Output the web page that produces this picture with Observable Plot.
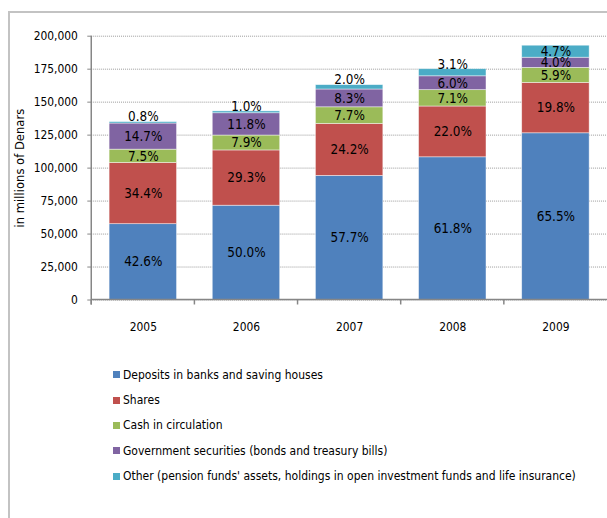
<!DOCTYPE html>
<html><head><meta charset="utf-8">
<script src="https://cdn.jsdelivr.net/npm/d3@7"></script>
<script src="https://cdn.jsdelivr.net/npm/@observablehq/plot@0.6"></script>
<style>
html,body{margin:0;padding:0;background:#fff;overflow:hidden;width:607px;height:518px;}
#wrap{position:relative;width:607px;height:518px;overflow:hidden;font-family:"DejaVu Sans Condensed","DejaVu Sans",sans-serif;}
#frame{position:absolute;left:8px;top:11px;width:620px;height:520px;border-left:2px solid #c3c3c3;border-top:2px solid #c3c3c3;}
#chart{position:absolute;left:0;top:0;}
#legend{position:absolute;left:113px;top:362px;font-size:12px;color:#000;}
.item{height:25.4px;display:flex;align-items:center;white-space:nowrap;}
.sw{width:7px;height:7px;margin-right:3px;flex:none;}
</style></head>
<body>
<div id="wrap"><div id="frame"></div><div id="chart"></div><div id="legend"></div></div>
<script>
const years = ["2005", "2006", "2007", "2008", "2009"];
const seriesNames = [
  "Deposits in banks and saving houses",
  "Shares",
  "Cash in circulation",
  "Government securities (bonds and treasury bills)",
  "Other (pension funds' assets, holdings in open investment funds and life insurance)"
];
const colors = ["#4f81bd", "#c0504d", "#9bbb59", "#8064a2", "#4bacc6"];
// values in millions of Denars
const deposits      = [57500, 71500, 94100, 108200, 126400];
const shares        = [46400, 41900, 39400, 38500, 38200];
const cash          = [10100, 11300, 12600, 12400, 11400];
const govSecurities = [19800, 16900, 13500, 10500, 7700];
const other         = [1100, 1400, 3300, 5400, 9100];
const depositsPct = ["42.6%", "50.0%", "57.7%", "61.8%", "65.5%"];
const sharesPct   = ["34.4%", "29.3%", "24.2%", "22.0%", "19.8%"];
const cashPct     = ["7.5%", "7.9%", "7.7%", "7.1%", "5.9%"];
const govPct      = ["14.7%", "11.8%", "8.3%", "6.0%", "4.0%"];
const otherPct    = ["0.8%", "1.0%", "2.0%", "3.1%", "4.7%"];
const yTicks = [0, 25000, 50000, 75000, 100000, 125000, 150000, 175000, 200000];
const yLabel = "in millions of Denars";

const seriesValues = [deposits, shares, cash, govSecurities, other];
const seriesPct = [depositsPct, sharesPct, cashPct, govPct, otherPct];

const rows = [];
years.forEach((yr, i) => {
  let base = 0;
  seriesNames.forEach((s, j) => {
    const v = seriesValues[j][i];
    rows.push({year: yr, series: s, value: v, y0: base, y1: base + v, mid: base + v / 2, pct: seriesPct[j][i], small: v < 6000});
    base += v;
  });
});
const inside = rows.filter((d) => !d.small);
const above = rows.filter((d) => d.small);

const fontFamily = '"DejaVu Sans Condensed","DejaVu Sans",sans-serif';

function axesLines(index, scales) {
  const x = scales.x, y = scales.y;
  const bw = typeof x.bandwidth === "function" ? x.bandwidth() : x.bandwidth;
  const step = x(years[1]) - x(years[0]);
  const off = (step - bw) / 2;
  const g = d3.create("svg:g").attr("stroke", "#868686").attr("stroke-width", 1.5);
  const x0 = x(years[0]) - off;
  const y0 = y(0);
  g.append("line").attr("x1", x0).attr("x2", x0).attr("y1", y(yTicks[yTicks.length - 1])).attr("y2", y0 + 5);
  g.append("line").attr("x1", x0).attr("x2", x(years[years.length - 1]) + bw + off).attr("y1", y0).attr("y2", y0);
  years.forEach((yr) => {
    const bx = x(yr) - off;
    g.append("line").attr("x1", bx).attr("x2", bx).attr("y1", y0).attr("y2", y0 + 5);
  });
  return g.node();
}

const chart = Plot.plot({
  width: 612,
  height: 345,
  marginLeft: 92,
  marginRight: 0,
  marginTop: 36,
  marginBottom: 43,
  style: {fontFamily, fontSize: "12px", background: "transparent", color: "#000"},
  x: {domain: years, paddingInner: 0.35, paddingOuter: 0.175, label: null},
  y: {domain: [0, 200000], label: null},
  color: {domain: seriesNames, range: colors},
  marks: [
    Plot.gridY(yTicks, {stroke: "#9a9a9a", strokeOpacity: 1, strokeDasharray: "1,1"}),
    Plot.barY(rows, {x: "year", y1: "y0", y2: "y1", fill: "series", stroke: "#fff", strokeOpacity: 0.6, strokeWidth: 0.75}),
    axesLines,
    Plot.axisY({ticks: yTicks, tickSize: 4, tickPadding: 10, tickFormat: d3.format(","), stroke: "#868686", fill: "#000", fontSize: 12, label: null}),
    Plot.axisX({tickSize: 0, tickPadding: 23, fontSize: 12, fill: "#000", label: null}),
    Plot.text(inside, {x: "year", y: "mid", text: "pct", fontSize: 13.5, fill: "#000", lineAnchor: "middle"}),
    Plot.text(above, {x: "year", y: "y1", dy: -5, text: "pct", fontSize: 13.5, fill: "#000", lineAnchor: "middle"}),
    Plot.text([yLabel], {text: (d) => d, frameAnchor: "left", textAnchor: "middle", lineAnchor: "middle", rotate: -90, dx: -72, fontSize: 13, fill: "#000"})
  ]
});
document.getElementById("chart").appendChild(chart);

const legend = document.getElementById("legend");
seriesNames.forEach((s, j) => {
  const it = document.createElement("div");
  it.className = "item";
  const sw = document.createElement("span");
  sw.className = "sw";
  sw.style.background = colors[j];
  const tx = document.createElement("span");
  tx.textContent = s;
  it.appendChild(sw);
  it.appendChild(tx);
  legend.appendChild(it);
});
</script>
</body></html>
